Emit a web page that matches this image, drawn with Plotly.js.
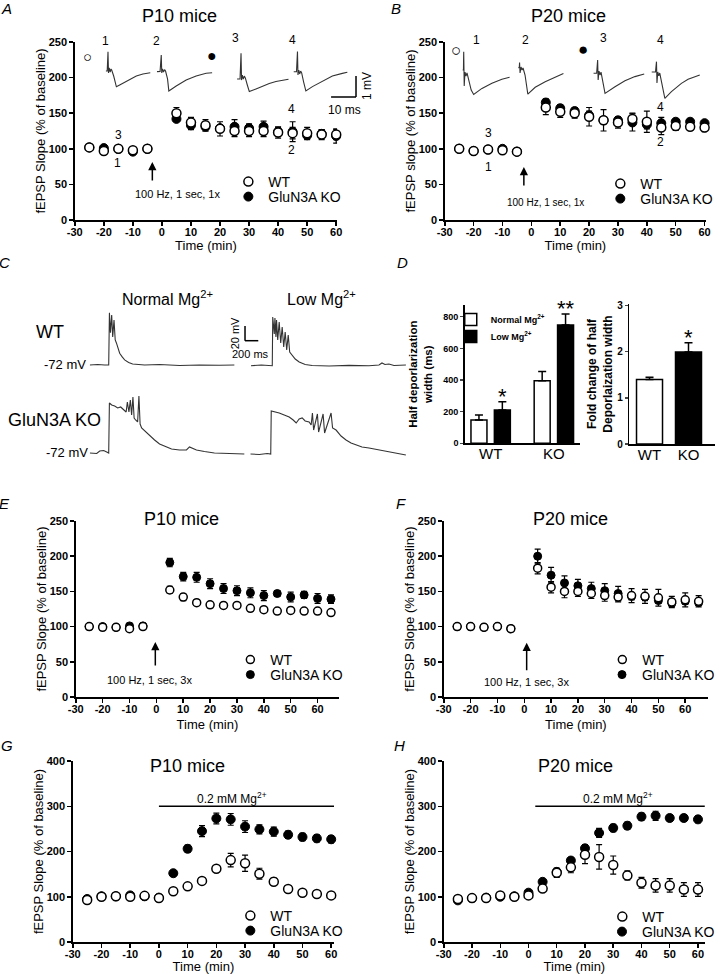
<!DOCTYPE html>
<html><head><meta charset="utf-8">
<script src="https://cdn.plot.ly/plotly-3.0.1.min.js"></script>
<style>body{margin:0;background:#fff}#chart{width:720px;height:974px}</style>
</head><body><div id="chart"></div>
<script>
// ================= DATA =================
const timeTickVals = [-30,-20,-10,0,10,20,30,40,50,60];
const timeTickText = ['-30','-20','-10','0','10','20','30','40','50','60'];

// Panel A (P10, 100 Hz 1x)
const timeA = [-25,-20,-15,-10,-5,5,10,15,20,25,30,35,40,45,50,55,60];
const aWT    = [102,97,100,98,100,150,137,133,128,125,125,125,123,122,122,120,120];
const aWTerr = [3,3,3,3,3,8,7,8,10,8,8,8,8,8,8,7,7];
const aKO    = [102,101,100,96,100,142,133,131,129,131,129,131,124,124,119,121,118];
const aKOerr = [3,3,3,3,3,4,6,6,5,10,6,8,6,14,6,6,10];

// Panel B (P20, 100 Hz 1x)
const timeB = [-25,-20,-15,-10,-5,5,10,15,20,25,30,35,40,45,50,55,60];
const bWT    = [100,97,99,98,96,158,152,150,145,140,137,142,138,130,132,131,130];
const bWTerr = [2,2,2,2,2,10,8,7,13,15,8,8,15,10,6,5,6];
const bKO    = [100,97,99,100,96,165,157,153,147,140,140,137,134,136,138,138,136];
const bKOerr = [2,2,2,2,2,5,5,5,6,5,5,12,6,8,3,3,3];

// Panel D (half depolarization width)
const dGroups    = ['WT','KO'];
const dNormal    = [148,396];
const dNormalErr = [31,57];
const dLow       = [210,747];
const dLowErr    = [53,70];
const dLowStars  = ['*','**'];
const foldGroups = ['WT','KO'];
const foldVals   = [1.4,2.0];
const foldErr    = [0.05,0.2];
const foldStars  = ['','*'];

// Panel E (P10, 100 Hz 3x)
const timeE = [-25,-20,-15,-10,-5,5,10,15,20,25,30,35,40,45,50,55,60,65];
const eWT    = [100,99,99,97,100,152,142,134,131,130,130,126,124,122,123,122,122,120];
const eWTerr = [2,2,2,2,3,5,5,4,4,3,3,3,3,3,3,3,3,3];
const eKO    = [100,100,99,101,101,191,171,170,161,154,151,148,144,147,142,145,140,139];
const eKOerr = [2,2,2,3,3,6,6,7,7,7,7,7,7,4,7,5,7,6];

// Panel F (P20, 100 Hz 3x)
const timeF = [-25,-20,-15,-10,-5,5,10,15,20,25,30,35,40,45,50,55,60,65];
const fWT    = [100,100,99,100,97,183,156,150,150,147,144,142,144,143,141,135,138,136];
const fWTerr = [2,2,2,2,2,8,8,9,7,7,8,7,10,10,12,8,10,8];
const fKO    = [100,100,99,100,97,200,173,162,158,154,151,147,143,142,137,133,136,134];
const fKOerr = [2,2,2,2,2,10,11,10,9,9,10,10,5,5,4,4,4,4];

// Panel G (P10, 0.2 mM Mg)
const timeG = [-25,-20,-15,-10,-5,0,5,10,15,20,25,30,35,40,45,50,55,60];
const gWT    = [93,100,101,100,102,97,112,123,135,162,181,174,151,133,117,109,106,103];
const gWTerr = [3,3,3,3,3,3,3,4,5,6,15,18,12,8,3,3,3,3];
const gKO    = [95,101,101,103,101,98,152,206,245,273,271,255,249,244,237,232,229,227];
const gKOerr = [3,3,3,3,3,3,4,8,12,12,13,13,10,10,8,8,8,8];
const mgPeriodG = [0,61];

// Panel H (P20, 0.2 mM Mg)
const timeH = [-25,-20,-15,-10,-5,0,5,10,15,20,25,30,35,40,45,50,55,60];
const hWT    = [95,97,97,103,100,103,118,153,165,193,188,170,147,131,125,125,116,116];
const hWTerr = [3,3,3,3,3,3,4,10,12,20,27,20,10,12,15,15,15,15];
const hKO    = [92,97,98,100,101,109,133,155,180,207,241,252,257,277,279,274,274,271];
const hKOerr = [3,3,3,3,3,3,4,8,5,8,10,8,8,8,10,7,7,7];
const mgPeriodH = [2.4,62.4];

// Stimulation times (arrow annotations)
const stimA = -3.3, stimB = -2.6, stimE = -0.4, stimF = 0.9;

// Inset fEPSP waveforms (ms, mV)
const epA1_t = [0,0.6,0.92,1.12,1.4,1.8,2.12,2.4,3.2,4.28,5.6,6.92,9.6,12.28,14.92,17.88];
const epA1_v = [-0.05,-0.05,0.88,-0.14,0.1,-0.1,0.05,0,-0.29,-0.81,-0.72,-0.64,-0.45,-0.29,-0.19,-0.13];
const epA2_t = [0,1.28,1.76,1.96,2.28,2.68,3.08,3.48,4.28,4.8,7.76,11.76,15.76,19.76,22.16];
const epA2_v = [-0.08,-0.07,0.72,-0.14,0.05,-0.1,0.02,-0.05,-0.43,-1.01,-0.77,-0.48,-0.29,-0.16,-0.13];
const epA3_t = [0,1.2,1.6,1.8,2.12,2.52,2.92,3.32,4.12,4.92,7.6,10.24,12.92,15.6,18.24,20.64];
const epA3_v = [0,0,1.24,-0.05,0.19,0,0.14,0.05,-0.29,-0.61,-0.48,-0.34,-0.22,-0.12,-0.05,-0.01];
const epA4_t = [0,1.2,1.6,1.8,2.12,2.48,2.88,3.28,4.08,4.96,7.6,11.6,15.6,19.6,21.6];
const epA4_v = [0,0,0.97,-0.16,0.08,-0.11,0.03,-0.06,-0.5,-0.93,-0.72,-0.45,-0.21,-0.08,-0.03];
const epB1_t = [0,0.4,0.52,0.72,1.04,1.44,1.84,2.52,3.52,4.52,7.84,11.84,15.84,18.92];
const epB1_v = [0,0,0.88,-0.77,-0.1,-0.29,-0.14,-0.48,-0.97,-1.18,-0.89,-0.64,-0.45,-0.35];
const epB2_t = [0,0.4,0.52,0.72,1.12,1.52,1.92,2.72,3.84,6.8,10.8,14.8,18.12];
const epB2_v = [0,0.05,0.26,-0.24,0.05,-0.1,0,-0.34,-1.26,-0.93,-0.66,-0.42,-0.26];
const epB3_t = [0,1.32,1.72,1.92,2.28,2.68,3.08,3.6,4.68,8.68,12.68,16.68,20.4];
const epB3_v = [0,0,0.64,-0.32,0.11,-0.08,0.06,-0.23,-0.97,-0.65,-0.36,-0.16,-0.03];
const epB4_t = [0,1.6,2,2.2,2.52,2.92,3.32,4.08,5.36,8,12,14.68,19.36];
const epB4_v = [0,0,0.5,-0.53,0,-0.19,-0.05,-0.48,-1.27,-0.95,-0.55,-0.35,-0.14];

// Panel C whole-cell traces (ms, mV)
const wtNormal_t = [0,120,225,285,296,311,330,345,365,383,401,420,450,488,525,585,645,825,1050,1350,1650,1950,2175];
const wtNormal_v = [-72,-71.3,-72,-72,-1,-28,-4,-34,-11,-38,-42,-49,-56,-61,-65,-68.5,-70.6,-72,-71.3,-72.7,-72,-72.4,-72];
const wtLow_t = [0,154.5,320,327,350,360,375,384,402,424,447,469,492,514,537,560,582,620,665,725,815,920,1175,1475,1775,1925,1970,2015,2075,2150,2330];
const wtLow_v = [-72,-71,-72,-5.8,-28.9,-7.1,-33,-9.8,-37,-12.6,-41.1,-19.4,-46.6,-26.2,-50.6,-30.2,-53.4,-57.4,-62.9,-67,-70.4,-71.7,-72.4,-71.5,-72.1,-71,-68.3,-70.4,-69.7,-71.7,-71];
const koNormal_t = [0,105,150,210,255,285,295.5,330,375,420,465,510,547.5,565.5,589.5,610.5,630,649.5,667.5,690,720,739.5,757.5,780,840,900,975,1050,1125,1230,1350,1455,1500,1545,1605,1725,1875,2100,2325];
const koNormal_v = [-72,-72.7,-69.3,-68.6,-70.6,-72,-4,-6.7,-8.1,-10.8,-9.4,-13.5,-16.2,-2.6,-16.2,0.1,-20.3,4.2,-24.4,-27.1,-29.8,5.5,-32.6,-38,-43.4,-47.5,-54.3,-59.8,-62.5,-66.6,-67.9,-67.9,-63.8,-65.2,-67.9,-70,-72,-72.7,-73.4];
const koLow_t = [0,135,255,307.5,315,375,435,510,585,645,690,735,780,825,885,915,934.5,952.5,1009.5,1027.5,1095,1117.5,1215,1237.5,1290,1365,1440,1515,1590,1680,1785,1935,2085,2235,2340];
const koLow_v = [-72,-72.7,-71.3,-72,-13.5,-14.8,-16.2,-18.9,-21.7,-25.8,-29.8,-24.4,-23,-27.1,-28.5,-32.6,-16.2,-39.4,-17.6,-42.1,-17.6,-43.4,-16.2,-36.6,-39.4,-47.5,-52.9,-57,-59.8,-62.5,-63.8,-66.6,-69.3,-72,-73.4];

// ================= LAYOUT HELPERS =================
const FONT = '"Liberation Sans", Arial, Helvetica, sans-serif';
const W = 720, H = 974;
const px = x => x / W;
const py = y => 1 - y / H;
const layout = {
  width: W, height: H, margin: {l:0, r:0, t:0, b:0},
  paper_bgcolor: 'white', plot_bgcolor: 'rgba(0,0,0,0)',
  font: {family: FONT, color: 'black'},
  showlegend: true, barmode: 'overlay',
  annotations: [], shapes: []
};
const data = [];
const sfx = n => (n === 1 ? '' : String(n));

function mainAxes(n, box, xr, yr, yvals, ytitle, xtitle, xstand) {
  const s = sfx(n);
  layout['xaxis' + s] = {
    domain: [px(box[0]), px(box[1])], range: xr, anchor: 'y' + s,
    showline: true, linewidth: 1.5, linecolor: 'black',
    ticks: 'outside', ticklen: 4, tickwidth: 1.5, tickcolor: 'black', ticklabelstandoff: -3,
    tickmode: 'array', tickvals: timeTickVals, ticktext: timeTickText,
    tickfont: {size: 11, weight: 'bold', family: FONT},
    showgrid: false, zeroline: false, fixedrange: true,
    title: {text: xtitle, font: {size: 13, family: FONT}, standoff: xstand}
  };
  layout['yaxis' + s] = {
    domain: [py(box[3]), py(box[2])], range: yr, anchor: 'x' + s,
    showline: true, linewidth: 1.5, linecolor: 'black',
    ticks: 'outside', ticklen: 4, tickwidth: 1.5, tickcolor: 'black',
    tickmode: 'array', tickvals: yvals, ticktext: yvals.map(String),
    tickfont: {size: 11, weight: 'bold', family: FONT},
    showgrid: false, zeroline: false, fixedrange: true,
    title: {text: ytitle, font: {size: 13, family: FONT}, standoff: 0}
  };
}

function hiddenAxes(n, xd, yd, xr, yr) {
  const s = sfx(n);
  layout['xaxis' + s] = {domain: [px(xd[0]), px(xd[1])], range: xr, anchor: 'y' + s, visible: false, fixedrange: true};
  layout['yaxis' + s] = {domain: [py(yd[1]), py(yd[0])], range: yr, anchor: 'x' + s, visible: false, fixedrange: true};
}

function legendAt(xpx, ypx, size, extra) {
  return Object.assign({x: px(xpx), y: py(ypx), xanchor: 'left', yanchor: 'top',
    bgcolor: 'rgba(0,0,0,0)', borderwidth: 0, itemwidth: 30, tracegroupgap: 0,
    font: {size: size, family: FONT, color: 'black'}}, extra || {});
}

let legendCount = 0;
function nextLegend(xpx, ypx, size, extra) {
  legendCount += 1;
  const id = legendCount === 1 ? 'legend' : 'legend' + legendCount;
  layout[id] = legendAt(xpx, ypx, size, extra);
  return id;
}

// legend rows: [left px, WT row centre, KO row centre]
function lrSeries(n, t, wt, wtErr, ko, koErr, size, leg) {
  const s = sfx(n);
  const eb = arr => ({type: 'data', array: arr, visible: true, color: 'black', thickness: 1.2, width: 3});
  const wtLeg = nextLegend(leg[0], leg[1] - 14, 14);
  const koLeg = nextLegend(leg[0], leg[2] - 14, 14);
  data.push({type: 'scatter', mode: 'markers', x: t, y: ko, xaxis: 'x' + s, yaxis: 'y' + s,
    name: 'GluN3A KO', legend: koLeg, cliponaxis: false,
    marker: {symbol: 'circle', size: size, color: 'black', line: {color: 'black', width: 1}},
    error_y: eb(koErr)});
  data.push({type: 'scatter', mode: 'markers', x: t, y: wt, xaxis: 'x' + s, yaxis: 'y' + s,
    name: 'WT', legend: wtLeg, cliponaxis: false,
    marker: {symbol: 'circle', size: size, color: 'white', line: {color: 'black', width: 1.5}},
    error_y: eb(wtErr)});
}

function ann(text, x, y, size, opts) {
  layout.annotations.push(Object.assign({text: text, x: px(x), y: py(y), xref: 'paper', yref: 'paper',
    showarrow: false, xanchor: 'center', yanchor: 'middle',
    font: {size: size, family: FONT, color: 'black'}}, opts || {}));
}
function arrowAt(n, x, y, ay) {
  const s = sfx(n);
  layout.annotations.push({text: '', x: x, y: y, xref: 'x' + s, yref: 'y' + s, showarrow: true,
    ax: 0, ay: ay, arrowhead: 2, arrowsize: 1.1, arrowwidth: 1.5, arrowcolor: 'black'});
}
function paperLine(x0, y0, x1, y1) {
  layout.shapes.push({type: 'line', xref: 'paper', yref: 'paper', x0: px(x0), y0: py(y0), x1: px(x1), y1: py(y1),
    line: {color: 'black', width: 1.5}});
}

// ================= MAIN PANELS =================
const yTitle = 'fEPSP Slope (% of baseline)';
mainAxes(1, [75, 338, 42, 220], [-30, 60.3], [0, 250], [0,50,100,150,200,250], yTitle, 'Time (min)', 2);
mainAxes(2, [446, 708, 42, 220], [-30, 60.5], [0, 250], [0,50,100,150,200,250], 'fEPSP slope (% of baseline)', 'Time (min)', 3);
mainAxes(5, [76, 340, 521, 697], [-30, 68], [0, 250], [0,50,100,150,200,250], yTitle, 'Time (min)', 6);
mainAxes(6, [445, 710, 521, 697], [-30, 68.5], [0, 250], [0,50,100,150,200,250], yTitle, 'Time (min)', 6);
mainAxes(7, [73, 335, 761, 942], [-30, 61], [0, 400], [0,100,200,300,400], yTitle, 'Time (min)', 8);
mainAxes(8, [445, 707, 761, 942], [-30, 62.5], [0, 400], [0,100,200,300,400], yTitle, 'Time (min)', 8);

lrSeries(1, timeA, aWT, aWTerr, aKO, aKOerr, 9, [229, 180, 195]);
lrSeries(2, timeB, bWT, bWTerr, bKO, bKOerr, 9, [602, 182, 197]);
lrSeries(5, timeE, eWT, eWTerr, eKO, eKOerr, 8, [231, 658, 673]);
lrSeries(6, timeF, fWT, fWTerr, fKO, fKOerr, 8, [604, 658, 673]);
lrSeries(7, timeG, gWT, gWTerr, gKO, gKOerr, 9, [231, 914, 929]);
lrSeries(8, timeH, hWT, hWTerr, hKO, hKOerr, 9, [604, 915, 930]);

// ================= PANEL D =================
const barW1 = 0.253, normOff = -0.311, lowOff = 0.059;
layout.xaxis3 = {domain: [px(466), px(582)], range: [-0.41, 1.42], type: 'category', anchor: 'y3',
  showline: true, linewidth: 1.5, linecolor: 'black', ticks: '', ticklabelstandoff: -4,
  tickfont: {size: 15, family: FONT},
  showgrid: false, zeroline: false, fixedrange: true};
layout.yaxis3 = {domain: [py(443.3), py(305)], range: [0, 874], anchor: 'x3',
  showline: true, linewidth: 1.5, linecolor: 'black', ticks: 'outside', ticklen: 3, tickwidth: 1.2,
  tickmode: 'array', tickvals: [0,200,400,600,800], ticktext: ['0','200','400','600','800'],
  tickfont: {size: 9, weight: 'bold', family: FONT}, showgrid: false, zeroline: false, fixedrange: true,
  title: {text: 'Half deporlarization<br>width (ms)', font: {size: 11.5, weight: 'bold', family: FONT}, standoff: 8}};
layout.xaxis4 = {domain: [px(631), px(717)], range: [-0.52, 1.68], type: 'category', anchor: 'y4',
  showline: true, linewidth: 1.5, linecolor: 'black', ticks: '', ticklabelstandoff: -4,
  tickfont: {size: 15, family: FONT},
  showgrid: false, zeroline: false, fixedrange: true};
layout.yaxis4 = {domain: [py(444), py(304)], range: [0, 3.04], anchor: 'x4',
  showline: true, linewidth: 1.5, linecolor: 'black', ticks: 'outside', ticklen: 3, tickwidth: 1.2,
  tickmode: 'array', tickvals: [0,1,2,3], ticktext: ['0','1','2','3'],
  tickfont: {size: 10, weight: 'bold', family: FONT}, showgrid: false, zeroline: false, fixedrange: true,
  title: {text: 'Fold change of half<br>Deporlaization width', font: {size: 12, weight: 'bold', family: FONT}, standoff: 2}};

const dLegFont = {font: {size: 9, family: FONT, color: 'black', weight: 'bold'}};
const legNormal = nextLegend(452, 305, 9, dLegFont);
const legLow = nextLegend(452, 322, 9, dLegFont);
const upErr = (arr) => ({type: 'data', symmetric: false, array: arr, arrayminus: arr.map(() => 0),
  color: 'black', thickness: 1.5, width: 4});
data.push({type: 'bar', x: dGroups, y: dNormal, xaxis: 'x3', yaxis: 'y3', width: barW1, offset: normOff,
  name: 'Normal Mg<sup>2+</sup>', legend: legNormal,
  marker: {color: 'white', line: {color: 'black', width: 1.5}}, error_y: upErr(dNormalErr)});
data.push({type: 'bar', x: dGroups, y: dLow, xaxis: 'x3', yaxis: 'y3', width: barW1, offset: lowOff,
  name: 'Low Mg<sup>2+</sup>', legend: legLow,
  marker: {color: 'black', line: {color: 'black', width: 1.5}}, error_y: upErr(dLowErr)});
data.push({type: 'bar', x: foldGroups, y: foldVals, xaxis: 'x4', yaxis: 'y4', width: 0.667, showlegend: false,
  marker: {color: ['white', 'black'], line: {color: 'black', width: 1.5}}, error_y: upErr(foldErr)});

dLowStars.forEach((s, i) => {
  if (!s) return;
  layout.annotations.push({text: s, x: i + lowOff + barW1 / 2, y: dLow[i] + dLowErr[i], xref: 'x3', yref: 'y3',
    showarrow: false, yanchor: 'bottom', yshift: -9, font: {size: 22, family: FONT, color: 'black'}});
});
foldStars.forEach((s, i) => {
  if (!s) return;
  layout.annotations.push({text: s, x: i, y: foldVals[i] + foldErr[i], xref: 'x4', yref: 'y4',
    showarrow: false, yanchor: 'bottom', yshift: -9, font: {size: 22, family: FONT, color: 'black'}});
});

// ================= INSETS (fEPSP waveforms) =================
const insetStyle = {color: '#333', width: 1.1};
const msPerPx = 1 / 2.5, mvPerPx = 1 / 20.7;
const insets = [
  [epA1_t, epA1_v, 106, 70], [epA2_t, epA2_v, 157.3, 70], [epA3_t, epA3_v, 237.7, 79], [epA4_t, epA4_v, 294.3, 71.7],
  [epB1_t, epB1_v, 463.7, 70], [epB2_t, epB2_v, 519.7, 68], [epB3_t, epB3_v, 595, 73.3], [epB4_t, epB4_v, 653.3, 72]
];
insets.forEach((ins, k) => {
  const n = 9 + k;
  const x0 = ins[2], y0 = ins[3];
  hiddenAxes(n, [x0, x0 + 60], [40, 105], [0, 60 * msPerPx], [(y0 - 105) * mvPerPx, (y0 - 40) * mvPerPx]);
  data.push({type: 'scatter', mode: 'lines', x: ins[0], y: ins[1], xaxis: 'x' + n, yaxis: 'y' + n,
    showlegend: false, line: insetStyle, hoverinfo: 'skip'});
});

// ================= PANEL C traces =================
const cMsPerPx = 15, cMvPerPx = 1.36;
const cTraces = [
  [wtNormal_t, wtNormal_v, 90, 365], [wtLow_t, wtLow_v, 251.7, 365.7],
  [koNormal_t, koNormal_v, 90, 453], [koLow_t, koLow_v, 251, 454]
];
cTraces.forEach((tr, k) => {
  const n = 17 + k;
  const x0 = tr[2], y0 = tr[3];
  hiddenAxes(n, [x0, x0 + 160], [y0 - 65, y0 + 8], [0, 160 * cMsPerPx], [-72 - 8 * cMvPerPx, -72 + 65 * cMvPerPx]);
  data.push({type: 'scatter', mode: 'lines', x: tr[0], y: tr[1], xaxis: 'x' + n, yaxis: 'y' + n,
    showlegend: false, line: {color: '#333', width: 1.1}, hoverinfo: 'skip'});
});

// ================= ANNOTATIONS =================
const italic = {font: {size: 15, family: FONT, color: 'black', style: 'italic'}};
ann('A', 7, 9, 15, italic); ann('B', 397, 9, 15, italic);
ann('C', 5, 262, 15, italic); ann('D', 404, 262, 15, italic);
ann('E', 5, 503, 15, italic); ann('F', 402, 503, 15, italic);
ann('G', 7, 745, 15, italic); ann('H', 401, 745, 15, italic);

ann('P10 mice', 180, 16, 18); ann('P20 mice', 570, 16, 18);
ann('P10 mice', 182, 519, 18); ann('P20 mice', 572, 519, 18);
ann('P10 mice', 188, 766, 18); ann('P20 mice', 577, 766, 18);

// Panel A labels
[['1',106,41],['2',157,41],['3',236,38],['4',293,40],['3',119,135],['1',118,163],['4',292,109],['2',292,150]]
  .forEach(a => ann(a[0], a[1], a[2], 12));
ann('○', 88, 57, 15); ann('●', 213, 56, 16);
paperLine(332, 97, 357, 97); paperLine(357, 76, 357, 97);
ann('10 ms', 345, 110, 12); ann('1 mV', 368, 86, 12, {textangle: -90});
ann('100 Hz, 1 sec, 1x', 178, 194, 11);
arrowAt(1, stimA, 81.5, 20);

// Panel B labels
[['1',478,40],['2',527,40],['3',605,38],['4',662,40],['3',490,133],['1',490,167],['4',662,107],['2',662,142]]
  .forEach(a => ann(a[0], a[1], a[2], 12));
ann('○', 457, 50, 17); ann('●', 585, 49, 17);
ann('100 Hz, 1 sec, 1x', 547, 202, 10);
arrowAt(2, stimB, 74.4, 20);

// Panel C labels
ann('Normal Mg<sup>2+</sup>', 168, 298, 16); ann('Low Mg<sup>2+</sup>', 322, 298, 16);
ann('WT', 50, 332, 18); ann('GluN3A KO', 55, 420, 18);
ann('-72 mV', 88, 364, 13, {xanchor: 'right'}); ann('-72 mV', 90, 452, 13, {xanchor: 'right'});
paperLine(245.7, 326, 245.7, 340.7); paperLine(245.7, 340.7, 259, 340.7);
ann('20 mV', 236, 333, 11, {textangle: -90}); ann('200 ms', 251, 354, 11);

// Panel E / F
ann('100 Hz, 1 sec, 3x', 150, 680, 11); arrowAt(5, stimE, 78, 25);
ann('100 Hz, 1 sec, 3x', 528, 682, 11); arrowAt(6, stimF, 77, 29);

// Panel G / H
layout.shapes.push({type: 'line', xref: 'x7', yref: 'y7', x0: mgPeriodG[0], x1: mgPeriodG[1], y0: 300, y1: 300, line: {color: 'black', width: 1.5}});
layout.shapes.push({type: 'line', xref: 'x8', yref: 'y8', x0: mgPeriodH[0], x1: mgPeriodH[1], y0: 300, y1: 300, line: {color: 'black', width: 1.5}});
ann('0.2 mM Mg<sup>2+</sup>', 233, 798, 12); ann('0.2 mM Mg<sup>2+</sup>', 620, 798, 12);

Plotly.newPlot('chart', data, layout, {displayModeBar: false, staticPlot: true});
</script>
</body></html>
